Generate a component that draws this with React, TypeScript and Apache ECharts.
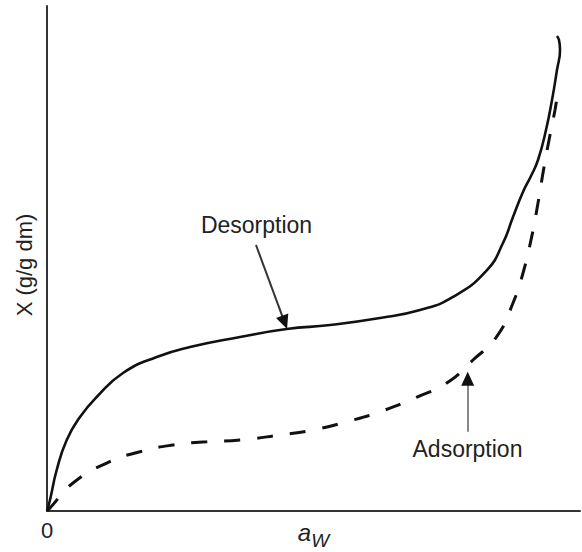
import React, { useEffect, useRef } from "react";
import * as echarts from "echarts";

// Desorption curve (a_w, X in relative units)
const desorptionX = [0, 0.0056, 0.0182, 0.037, 0.0619, 0.0932, 0.1426, 0.2058, 0.2683, 0.3621, 0.4497, 0.531, 0.6248, 0.6998, 0.7617, 0.8255, 0.8555, 0.8743, 0.893, 0.9081, 0.9212, 0.9362, 0.9475, 0.9568, 0.9625, 0.9606, 0.9568];
const desorptionY = [0, 0.0218, 0.0812, 0.1406, 0.1861, 0.2257, 0.2733, 0.305, 0.3248, 0.3446, 0.3604, 0.3683, 0.3822, 0.398, 0.4238, 0.4772, 0.5307, 0.5822, 0.6317, 0.6634, 0.695, 0.7545, 0.8139, 0.8733, 0.9129, 0.9327, 0.9406];

// Adsorption curve
const adsorptionX = [0, 0.0056, 0.0488, 0.112, 0.1745, 0.2364, 0.2996, 0.3621, 0.4371, 0.4991, 0.5623, 0.6248, 0.6942, 0.7499, 0.7992, 0.8437, 0.8743, 0.8931, 0.9094, 0.9212, 0.9325, 0.9437, 0.9531, 0.9568];
const adsorptionY = [0, 0.0059, 0.0554, 0.095, 0.1174, 0.1307, 0.1372, 0.1406, 0.1505, 0.1604, 0.1768, 0.1966, 0.2257, 0.2535, 0.299, 0.3451, 0.4119, 0.4713, 0.5432, 0.6099, 0.6812, 0.7446, 0.7941, 0.8198];

// Annotations: label positions and arrow start/end (data coordinates)
const desorptionLabel = [0.3931, 0.5663];
const desorptionArrow = [[0.3921, 0.5267], [0.4458, 0.3735]];
const adsorptionLabel = [0.7889, 0.1228];
const adsorptionArrow = [[0.7893, 0.157], [0.7893, 0.262]];

const xTicks = [0];

const FONT = "'Liberation Sans', Arial, Helvetica, sans-serif";

export default function App() {
  const ref = useRef<HTMLDivElement>(null);
  useEffect(() => {
    if (!ref.current) return;
    const chart = echarts.init(ref.current, undefined, { renderer: "svg" });
    const zip = (xs: number[], ys: number[]) => xs.map((x, i) => [x, ys[i]]);
    // short segment just behind the arrow tip, used to draw a black head on a grey shaft
    const headStart = (a: number[][]) => [
      a[1][0] - (a[1][0] - a[0][0]) * 0.05,
      a[1][1] - (a[1][1] - a[0][1]) * 0.05,
    ];
    const arrowMarkLine = (arrow: number[][], shaftColor: string) => ({
      silent: true,
      symbol: ["none", "none"],
      symbolSize: [13, 14],
      label: { show: false },
      emphasis: { disabled: true },
      data: [
        [
          { coord: arrow[0], symbol: "none", lineStyle: { color: shaftColor, width: 2, type: "solid" } },
          { coord: arrow[1], symbol: "none" },
        ],
        [
          { coord: headStart(arrow), symbol: "none", lineStyle: { color: "#111", width: 2, type: "solid" } },
          { coord: arrow[1], symbol: "triangle" },
        ],
      ],
    });
    const option: any = {
      animation: false,
      backgroundColor: "#ffffff",
      grid: { left: 47, right: 2, top: 6, bottom: 41, containLabel: false, outerBoundsMode: "none" },
      xAxis: {
        type: "value",
        min: 0,
        max: 1,
        interval: 1,
        axisLine: { show: true, lineStyle: { color: "#333", width: 2 } },
        axisTick: { show: false },
        splitLine: { show: false },
        axisLabel: {
          show: true,
          margin: 8,
          color: "#222",
          fontSize: 22,
          fontFamily: FONT,
          formatter: (v: number) => (xTicks.includes(v) ? String(v) : ""),
        },
        name: "{a|a}{w|W}",
        nameLocation: "middle",
        nameGap: 9,
        nameMoveOverlap: false,
        nameTextStyle: {
          verticalAlign: "top",
          lineHeight: 24,
          rich: {
            a: { fontSize: 24, fontStyle: "italic", fontFamily: FONT, color: "#222", lineHeight: 24, verticalAlign: "top" },
            w: { fontSize: 19, fontStyle: "italic", fontFamily: FONT, color: "#222", lineHeight: 24, verticalAlign: "bottom", padding: [0, 0, -6, 0] },
          },
        },
      },
      yAxis: {
        type: "value",
        min: 0,
        max: 1,
        axisLine: { show: true, lineStyle: { color: "#333", width: 2 } },
        axisTick: { show: false },
        splitLine: { show: false },
        axisLabel: { show: false },
        name: "X (g/g dm)",
        nameLocation: "middle",
        nameGap: 12,
        nameMoveOverlap: false,
        nameTextStyle: { fontSize: 22, fontFamily: FONT, color: "#222", padding: [0, 13, 0, 0] },
      },
      series: [
        {
          name: "Desorption",
          type: "line",
          data: zip(desorptionX, desorptionY),
          showSymbol: false,
          symbol: "none",
          smooth: 0.5,
          lineStyle: { color: "#111", width: 2.6, type: "solid" },
          markLine: arrowMarkLine(desorptionArrow, "#333"),
          markPoint: {
            silent: true,
            symbol: "circle",
            symbolSize: 0,
            label: {
              show: true,
              position: "inside",
              formatter: "Desorption",
              fontSize: 23,
              fontFamily: FONT,
              color: "#222",
            },
            data: [{ coord: desorptionLabel }],
          },
        },
        {
          name: "Adsorption",
          type: "line",
          data: zip(adsorptionX, adsorptionY),
          showSymbol: false,
          symbol: "none",
          smooth: 0.5,
          lineStyle: { color: "#111", width: 3, type: [16, 17] },
          markLine: arrowMarkLine(adsorptionArrow, "#888"),
          markPoint: {
            silent: true,
            symbol: "circle",
            symbolSize: 0,
            label: {
              show: true,
              position: "inside",
              formatter: "Adsorption",
              fontSize: 23,
              fontFamily: FONT,
              color: "#222",
            },
            data: [{ coord: adsorptionLabel }],
          },
        },
      ],
    };
    chart.setOption(option);
    return () => chart.dispose();
  }, []);
  return (
    <div
      ref={ref}
      style={{ position: "absolute", left: 0, top: 0, width: 582, height: 552, background: "#fff" }}
    />
  );
}
